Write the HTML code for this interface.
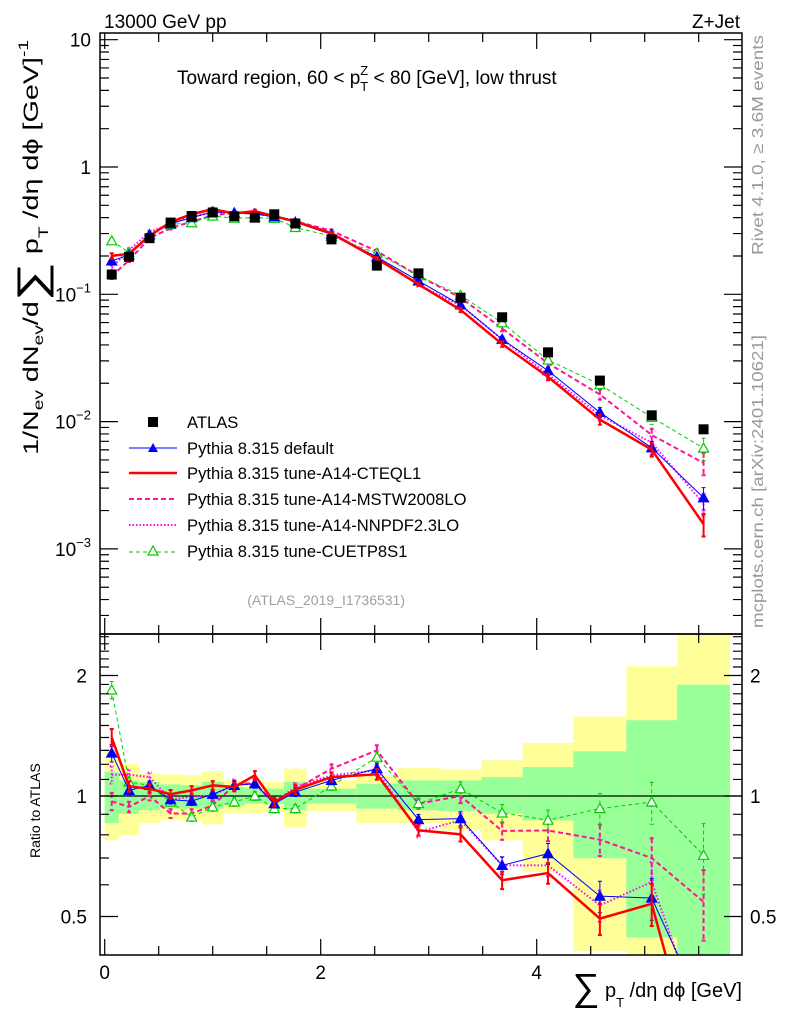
<!DOCTYPE html>
<html><head><meta charset="utf-8"><style>
html,body{margin:0;padding:0;background:#fff;overflow:hidden;width:786px;height:1024px;}
svg{display:block;font-family:"Liberation Sans",sans-serif;}
</style></head><body>
<svg id="c" width="786" height="1024" viewBox="0 0 786 1024" xmlns="http://www.w3.org/2000/svg">
<defs>
<clipPath id="clipMain"><rect x="100" y="33" width="642" height="601"/></clipPath>
<clipPath id="clipRatio"><rect x="100" y="634" width="642" height="321"/></clipPath>
</defs>
<g id="bands" clip-path="url(#clipRatio)"></g>
<g id="marksMain" clip-path="url(#clipMain)"></g>
<g id="marksRatio" clip-path="url(#clipRatio)"></g>
<g id="axes"></g>

<text x="104" y="28" font-size="19">13000 GeV pp</text>
<text x="740" y="28" font-size="19" text-anchor="end">Z+Jet</text>
<text x="177" y="84" font-size="19">Toward region, 60 &lt; p<tspan font-size="13" dy="7">T</tspan><tspan font-size="13" dx="-8" dy="-16">Z</tspan><tspan dy="9"> &lt; 80 [GeV], low thrust</tspan></text>
<text x="405" y="605" font-size="14" fill="#a0a0a0" text-anchor="end">(ATLAS_2019_I1736531)</text>
<text transform="translate(763,255) rotate(-90)" font-size="16" fill="#999" textLength="220" lengthAdjust="spacingAndGlyphs">Rivet 4.1.0, ≥ 3.6M events</text>
<text transform="translate(763,628) rotate(-90)" font-size="16" fill="#999" textLength="293" lengthAdjust="spacingAndGlyphs">mcplots.cern.ch [arXiv:2401.10621]</text>

<text transform="translate(38,455) rotate(-90)" font-size="21" textLength="415" lengthAdjust="spacingAndGlyphs">1/N<tspan font-size="14" dy="5">ev</tspan><tspan dy="-5"> dN</tspan><tspan font-size="14" dy="5">ev</tspan><tspan dy="-5">/d</tspan><tspan font-size="40" dy="7">∑</tspan><tspan dy="-7"> p</tspan><tspan font-size="14" dy="10">T</tspan><tspan dy="-10"> /dη dϕ  [GeV]</tspan><tspan font-size="14" dy="-10">-1</tspan></text>
<text transform="translate(40,858) rotate(-90)" font-size="14">Ratio to ATLAS</text>
<text x="742" y="997" font-size="20" text-anchor="end"><tspan font-size="38" dy="3">∑</tspan><tspan dy="-3"> p</tspan><tspan font-size="13" dy="10">T</tspan><tspan dy="-10"> /dη dϕ [GeV]</tspan></text>

<g font-size="16.6">
<rect x="148" y="417" width="10" height="10" fill="#000"/>
<text x="187" y="428">ATLAS</text>
<line x1="129" y1="448" x2="177" y2="448" stroke="#0000ff" stroke-width="1"/>
<polygon points="153,443 158,452 148,452" fill="#0000ff"/>
<text x="187" y="454">Pythia 8.315 default</text>
<line x1="129" y1="473" x2="177" y2="473" stroke="#ff0000" stroke-width="2.5"/>
<text x="187" y="479">Pythia 8.315 tune-A14-CTEQL1</text>
<line x1="129" y1="499" x2="177" y2="499" stroke="#ff1493" stroke-width="2" stroke-dasharray="5,3"/>
<text x="187" y="505">Pythia 8.315 tune-A14-MSTW2008LO</text>
<line x1="129" y1="525" x2="177" y2="525" stroke="#ff00ff" stroke-width="2" stroke-dasharray="1.5,2"/>
<text x="187" y="531">Pythia 8.315 tune-A14-NNPDF2.3LO</text>
<line x1="129" y1="552" x2="177" y2="552" stroke="#00cc00" stroke-width="1" stroke-dasharray="4,3"/>
<polygon points="153,546 158,555 148,555" fill="#fff" stroke="#00cc00" stroke-width="1.2"/>
<text x="187" y="557">Pythia 8.315 tune-CUETP8S1</text>
</g>
</svg>
<script>
// ---- data ----
const binEdges = [0,0.13,0.32,0.51,0.71,0.9,1.1,1.3,1.48,1.66,1.87,2.33,2.71,3.1,3.49,3.87,4.34,4.83,5.3,5.79];
const atlas = [0.143,0.197,0.276,0.366,0.412,0.439,0.41,0.40,0.425,0.36,0.27,0.168,0.146,0.094,0.066,0.035,0.021,0.0112,0.0087];
const ratioDefault = [1.28,1.033,1.063,0.979,0.971,1.01,1.063,1.073,0.957,1.023,1.094,1.17,0.873,0.878,0.671,0.718,0.562,0.556,0.29];
const ratioCTEQ = [1.40,1.057,1.043,1.01,1.033,1.063,1.053,1.126,0.966,1.037,1.115,1.133,0.821,0.802,0.616,0.642,0.494,0.538,0.18];
const ratioMSTW = [0.97,0.939,1.0,0.904,0.904,0.948,1.063,1.08,0.957,1.04,1.17,1.30,0.957,1.0,0.818,0.82,0.778,0.70,0.544];
const ratioNNPDF = [1.13,1.13,1.115,0.98,0.995,1.0,1.073,1.073,0.966,1.053,1.126,1.16,0.813,0.87,0.671,0.671,0.533,0.61,0.26];
const ratioCUET = [1.84,1.084,1.063,0.966,0.886,0.939,0.966,1.0,0.93,0.93,1.059,1.25,0.957,1.043,0.907,0.87,0.93,0.966,0.711];
const relErr = [0.05,0.03,0.025,0.025,0.025,0.025,0.025,0.025,0.025,0.025,0.025,0.03,0.03,0.04,0.05,0.06,0.09,0.12,0.2];
const yellowHi = [1.30,1.204,1.137,1.133,1.126,1.148,1.094,1.084,1.084,1.17,1.094,1.126,1.177,1.164,1.228,1.357,1.58,2.11,3.0];
const yellowLo = [0.775,0.798,0.856,0.869,0.869,0.85,0.903,0.903,0.912,0.834,0.917,0.856,0.856,0.821,0.775,0.646,0.41,0.35,0.3];
const greenHi = [1.148,1.094,1.084,1.069,1.063,1.084,1.053,1.043,1.043,1.084,1.043,1.073,1.094,1.094,1.115,1.181,1.293,1.546,1.897];
const greenLo = [0.856,0.903,0.921,0.93,0.93,0.93,0.948,0.957,0.957,0.921,0.957,0.93,0.921,0.917,0.903,0.869,0.699,0.443,0.3];
const mainTicks = [10,1,0.1,0.01,0.001];
const mainTickLabels = ["10","1","10^-1","10^-2","10^-3"];
const ratioTicks = [2,1,0.5];
const ratioTickLabels = ["2","1","0.5"];
const xTicks = [0,2,4];
const xTickLabels = ["0","2","4"];

// ---- axes functions ----
const NS="http://www.w3.org/2000/svg";
const X0=100,X1=742,MT=33,MB=634,RB=955;
const xS=v=>104.7+108*v;
const yM=v=>167-127.3*Math.log10(v);
const yR=r=>796-120.5*Math.log2(r);
function mk(tag,attrs,parent){const e=document.createElementNS(NS,tag);for(const k in attrs)e.setAttribute(k,attrs[k]);parent.appendChild(e);return e;}
const centers=binEdges.slice(0,-1).map((e,i)=>(e+binEdges[i+1])/2);

const bandsG=document.getElementById('bands');
for(let i=0;i<centers.length;i++){
  const xa=xS(binEdges[i]),xb=xS(binEdges[i+1]);
  const yyt=Math.max(yR(yellowHi[i]),MB),yyb=Math.min(yR(yellowLo[i]),RB);
  const y1=mk('rect',{x:xa,y:yyt,width:xb-xa,height:yyb-yyt,fill:'#ffff99'},bandsG);
  
  
  const gyt=Math.max(yR(greenHi[i]),MB),gyb=Math.min(yR(greenLo[i]),RB);
  const g1=mk('rect',{x:xa,y:gyt,width:xb-xa,height:gyb-gyt,fill:'#99ff99'},bandsG);
  
  
}
const one=mk('line',{x1:X0,x2:X1,y1:yR(1),y2:yR(1),stroke:'#000','stroke-width':1.2},bandsG);



const series=[
 {name:'mstw',r:ratioMSTW,color:'#ff1493',w:2,dash:'5,3',marker:null},
 {name:'nnpdf',r:ratioNNPDF,color:'#ff00ff',w:2,dash:'1.5,2',marker:null},
 {name:'cuetp8s1',r:ratioCUET,color:'#00cc00',w:1,dash:'4,3',marker:'open'},
 {name:'default',r:ratioDefault,color:'#0000ff',w:1,dash:null,marker:'filled'},
 {name:'cteql1',r:ratioCTEQ,color:'#ff0000',w:2.5,dash:null,marker:null}
];
// clip polyline points to [top,bot] vertically
function clipPts(pts,top,bot){
  const out=[];
  for(let i=0;i<pts.length;i++){
    const p=pts[i];
    const inside=p[1]>=top&&p[1]<=bot;
    if(i>0){
      const q=pts[i-1];const qin=q[1]>=top&&q[1]<=bot;
      if(qin&&!inside){const by=p[1]>bot?bot:top;const t=(by-q[1])/(p[1]-q[1]);out.push([q[0]+t*(p[0]-q[0]),by]);}
      else if(!qin&&inside){const by=q[1]>bot?bot:top;const t=(by-q[1])/(p[1]-q[1]);out.push([q[0]+t*(p[0]-q[0]),by]);}
    }
    if(inside)out.push(p);
  }
  return out;
}
function drawSeries(g,yf,valf,panel,top,bot){
  series.forEach(s=>{
    const sg=mk('g',{},g);
    
    
    const pts=clipPts(centers.map((c,i)=>[xS(c),yf(valf(s,i))]),top,bot);
    const pl=mk('polyline',{points:pts.map(p=>p[0].toFixed(2)+','+p[1].toFixed(2)).join(' '),fill:'none',stroke:s.color,'stroke-width':s.w},sg);
    if(s.dash)pl.setAttribute('stroke-dasharray',s.dash);
    
    
    centers.forEach((c,i)=>{
      const v=valf(s,i),x=xS(c);
      if(yf(v)>bot||yf(v)<top)return;
      const ya=Math.max(yf(v*(1+relErr[i])),top),yb=Math.min(yf(v*(1-relErr[i])),bot);
      const eb=mk('path',{d:`M${x},${ya}V${yb}M${x-2},${ya}H${x+2}M${x-2},${yb}H${x+2}`,stroke:s.color,'stroke-width':Math.min(s.w,2),fill:'none'},sg);
      if(s.dash)eb.setAttribute('stroke-dasharray',s.dash);
      
      
      if(s.marker){
        const y=yf(v);
        const m=mk('polygon',{points:`${x},${y-5} ${x+5},${y+4} ${x-5},${y+4}`,fill:s.marker==='filled'?s.color:'#fff',stroke:s.color,'stroke-width':1.2},sg);
        
        
      }
    });
  });
}
const mainG=document.getElementById('marksMain');
drawSeries(mainG,yM,(s,i)=>atlas[i]*s.r[i],'main',MT,MB);
centers.forEach((c,i)=>{
  const r=mk('rect',{x:xS(c)-5,y:yM(atlas[i])-5,width:10,height:10,fill:'#000'},mainG);
  
  
});
drawSeries(document.getElementById('marksRatio'),yR,(s,i)=>s.r[i],'ratio',MB,RB);

const ax=document.getElementById('axes');
function frame(y0,y1,nm){const r=mk('rect',{x:X0,y:y0,width:X1-X0,height:y1-y0,fill:'none',stroke:'#000','stroke-width':1.5},ax);}
frame(MT,MB,'main-plot-frame');frame(MB,RB,'ratio-plot-frame');
let d='';
for(let v=0;v<=5.9;v+=0.5){const x=xS(v);const L=(Math.abs(v%2)<1e-6)?16:9;
  d+=`M${x},${MT}v${L}M${x},${MB}v${-L}M${x},${MB}v${L}M${x},${RB}v${-L}`;}
for(let dec=-4;dec<=1;dec++){for(let k=1;k<10;k++){const v=k*Math.pow(10,dec);const y=yM(v);if(y<MT||y>MB)continue;const L=k===1?18:9;d+=`M${X0},${y}h${L}M${X1},${y}h${-L}`;}}
const rt=[0.4,0.5,0.6,0.7,0.8,0.9,1,1.1,1.2,1.3,1.4,1.5,1.6,1.7,1.8,1.9,2,2.1,2.2,2.3,2.4,2.5];
rt.forEach(r=>{const y=yR(r);if(y<MB||y>RB)return;const L=ratioTicks.includes(r)?18:9;d+=`M${X0},${y}h${L}M${X1},${y}h${-L}`;});
const tp=mk('path',{d:d,stroke:'#000','stroke-width':1.2,fill:'none'},ax);


mainTicks.forEach((v,i)=>{
  const lab=mainTickLabels[i];const y=yM(v)+7;
  const t=mk('text',{x:91,y:y,'font-size':19,'text-anchor':'end'},ax);
  if(lab.includes('^')){const [b,e]=lab.split('^');t.textContent=b;const s=mk('tspan',{'font-size':13,dy:-9},t);s.textContent=e.replace('-','−');}
  else t.textContent=lab;
  
  
});
ratioTicks.forEach((v,i)=>{
  const y=yR(v)+7;
  const t=mk('text',{x:87,y:y,'font-size':19,'text-anchor':'end'},ax);t.textContent=ratioTickLabels[i];
  
  
  const t2=mk('text',{x:750,y:y,'font-size':19},ax);t2.textContent=ratioTickLabels[i];
  
  
});
xTicks.forEach((v,i)=>{
  const t=mk('text',{x:xS(v),y:979,'font-size':19,'text-anchor':'middle'},ax);t.textContent=xTickLabels[i];
  
  
});
</script>
</body></html>
